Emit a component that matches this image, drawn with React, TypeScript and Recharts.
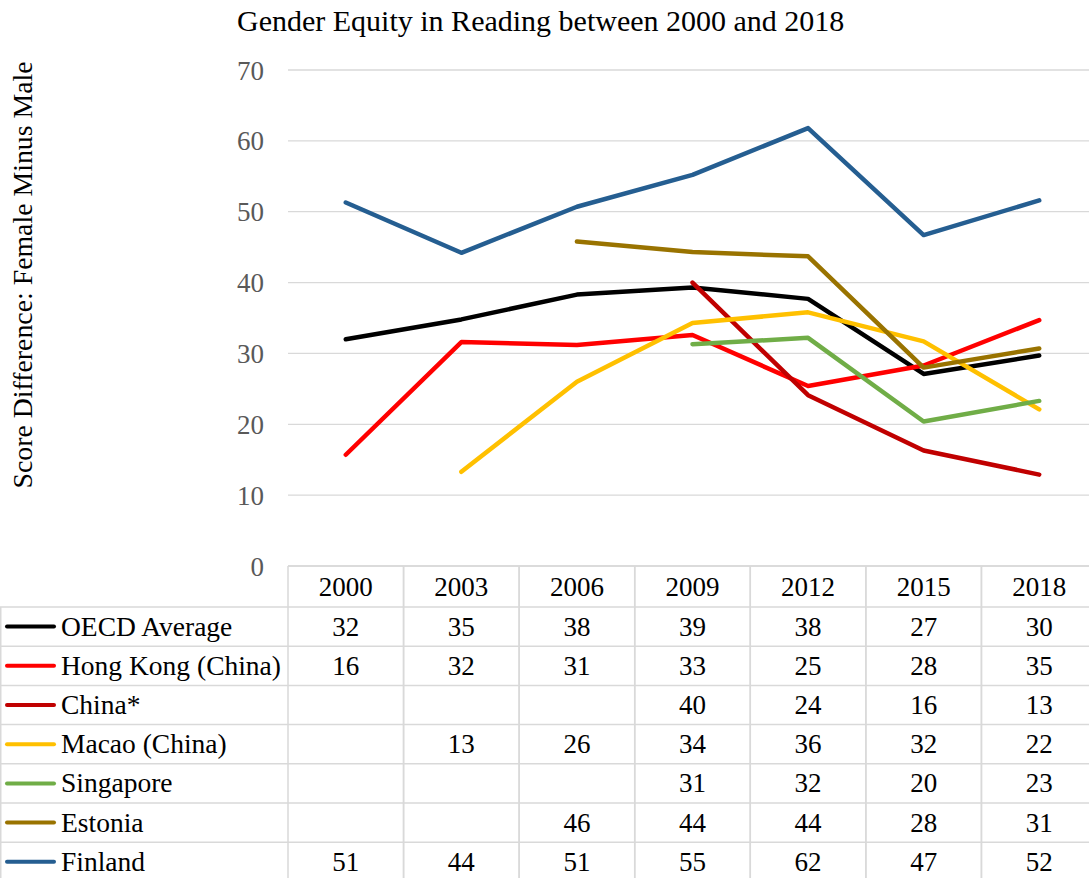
import { LineChart, Line, XAxis, YAxis, CartesianGrid } from 'recharts'

const YEARS = ['2000', '2003', '2006', '2009', '2012', '2015', '2018']
const Y_TICKS = [0, 10, 20, 30, 40, 50, 60, 70]

const OECD = [32.0, 34.8, 38.3, 39.3, 37.7, 27.1, 29.7]
const HONG_KONG = [15.7, 31.6, 31.2, 32.6, 25.4, 28.3, 34.7]
const CHINA = [null, null, null, 40.0, 24.1, 16.3, 12.9]
const MACAO = [null, 13.3, 26.0, 34.3, 35.8, 31.7, 22.1]
const SINGAPORE = [null, null, null, 31.3, 32.2, 20.4, 23.3]
const ESTONIA = [null, null, 45.8, 44.3, 43.7, 28.0, 30.7]
const FINLAND = [51.3, 44.2, 50.7, 55.2, 61.8, 46.7, 51.6]

const SERIES = [
  { key: 'oecd', name: 'OECD Average', values: OECD, color: '#000000' },
  { key: 'hk', name: 'Hong Kong (China)', values: HONG_KONG, color: '#FF0000' },
  { key: 'china', name: 'China*', values: CHINA, color: '#C00000' },
  { key: 'macao', name: 'Macao (China)', values: MACAO, color: '#FFC000' },
  { key: 'sg', name: 'Singapore', values: SINGAPORE, color: '#70AD47' },
  { key: 'est', name: 'Estonia', values: ESTONIA, color: '#997300' },
  { key: 'fin', name: 'Finland', values: FINLAND, color: '#255E91' },
]

const data = YEARS.map((year, i) => {
  const row: Record<string, string | number | null> = { year }
  SERIES.forEach(s => { row[s.key] = s.values[i] })
  return row
})

// layout (matches the Excel chart + data table)
const W = 1097
const H = 878
const PLOT_LEFT = 288
const PLOT_TOP = 70
const TABLE_TOP = 566
const PLOT_W = W - PLOT_LEFT
const COL_W = PLOT_W / YEARS.length
const HEADER_BOTTOM = 607
const ROW_H = 39.2
const FONT = 'Times New Roman, Liberation Serif, Tinos, DejaVu Serif, serif'
const FS = 27
const GRID = '#d9d9d9'

const rowCenter = (k: number) => HEADER_BOTTOM + (k + 0.5) * ROW_H

function TableFrame() {
  return (
    <g>
      <line x1={PLOT_LEFT} x2={W} y1={TABLE_TOP} y2={TABLE_TOP} stroke={GRID} strokeWidth={1.5} />
      {SERIES.map((s, k) => (
        <line key={s.key} x1={0} x2={W} y1={HEADER_BOTTOM + k * ROW_H} y2={HEADER_BOTTOM + k * ROW_H} stroke={GRID} strokeWidth={1.5} />
      ))}
      <line x1={0.75} x2={0.75} y1={HEADER_BOTTOM} y2={H} stroke={GRID} strokeWidth={1.5} />
      {SERIES.map((s, k) => (
        <g key={s.key}>
          <line x1={7} x2={54} y1={rowCenter(k)} y2={rowCenter(k)} stroke={s.color} strokeWidth={4} strokeLinecap="round" />
          <text x={61} y={rowCenter(k) + 9} style={{ fontFamily: FONT, fontSize: 27.5 }} fill="#000">{s.name}</text>
        </g>
      ))}
    </g>
  )
}

function TableColumn(props: any) {
  const { x, payload, index } = props
  return (
    <g>
      {index === 0 && <TableFrame />}
      <line x1={x - COL_W / 2} x2={x - COL_W / 2} y1={TABLE_TOP} y2={H} stroke={GRID} strokeWidth={1.5} />
      <line x1={x + COL_W / 2} x2={x + COL_W / 2} y1={TABLE_TOP} y2={H} stroke={GRID} strokeWidth={1.5} />
      <text x={x} y={596} textAnchor="middle" style={{ fontFamily: FONT, fontSize: FS }} fill="#000">{payload.value}</text>
      {SERIES.map((s, k) => {
        const v = s.values[index]
        if (v == null) return null
        return (
          <text key={s.key} x={x} y={rowCenter(k) + 9} textAnchor="middle" style={{ fontFamily: FONT, fontSize: FS }} fill="#000">
            {Math.round(v)}
          </text>
        )
      })}
    </g>
  )
}

function AxisTitle() {
  const cx = 32
  const cy = 275
  return (
    <text x={cx} y={cy} transform={`rotate(-90, ${cx}, ${cy})`} textAnchor="middle" style={{ fontFamily: FONT, fontSize: 27.8 }} fill="#000">
      Score Difference: Female Minus Male
    </text>
  )
}

function YTick(props: any) {
  const { x, y, payload } = props
  return (
    <text x={x} y={y} dy="0.355em" textAnchor="end" style={{ fontFamily: FONT, fontSize: FS }} fill="#595959">
      {payload.value}
    </text>
  )
}

export default function App() {
  return (
    <div style={{ position: 'absolute', left: 0, top: 0, width: 1089, height: 878, overflow: 'hidden', background: '#fff' }}>
      <div style={{ position: 'absolute', left: 237, top: 6, fontFamily: FONT, fontSize: 30, lineHeight: '30px', color: '#000', whiteSpace: 'nowrap' }}>
        Gender Equity in Reading between 2000 and 2018
      </div>
      <LineChart width={W} height={H} data={data} margin={{ top: PLOT_TOP, right: 0, bottom: 0, left: 0 }} style={{ fontFamily: FONT }}>
        <CartesianGrid vertical={false} stroke={GRID} strokeWidth={1.3} />
        <XAxis
          dataKey="year"
          height={H - TABLE_TOP}
          padding={{ left: COL_W / 2, right: COL_W / 2 }}
          axisLine={false}
          tickLine={false}
          tickSize={0}
          tickMargin={0}
          interval={0}
          tick={(p: any) => <TableColumn {...p} />}
        />
        <YAxis
          width={PLOT_LEFT}
          domain={[0, 70]}
          ticks={Y_TICKS}
          axisLine={false}
          tickLine={false}
          tickSize={0}
          tickMargin={24}
          tick={(p: any) => <YTick {...p} />}
          label={<AxisTitle />}
        />
        {SERIES.map(s => (
          <Line
            key={s.key}
            dataKey={s.key}
            name={s.name}
            type="linear"
            stroke={s.color}
            strokeWidth={4.5}
            strokeLinecap="round"
            strokeLinejoin="round"
            dot={false}
            activeDot={false}
            connectNulls={false}
            isAnimationActive={false}
          />
        ))}
      </LineChart>
    </div>
  )
}
